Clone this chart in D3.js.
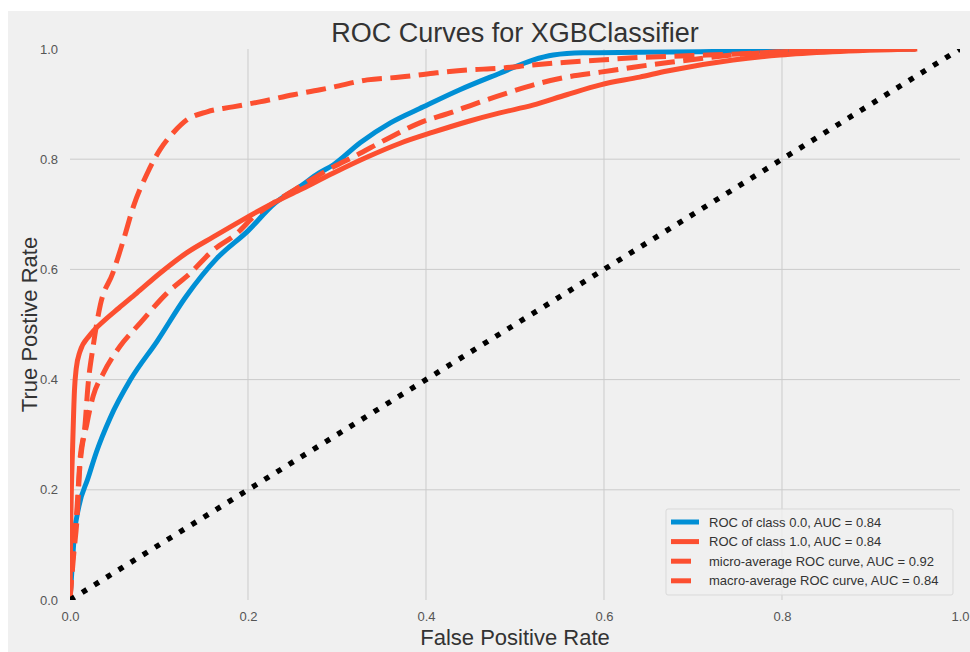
<!DOCTYPE html>
<html>
<head>
<meta charset="utf-8">
<script src="https://cdn.jsdelivr.net/npm/d3@7"></script>
<style>
  body { margin: 0; background: #ffffff; }
  text { font-family: "Liberation Sans", Arial, sans-serif; }
</style>
</head>
<body>
<script>
// Values
const fprClass0 = [0, 0.002, 0.005, 0.01, 0.02, 0.03, 0.045, 0.068, 0.098, 0.13, 0.165, 0.2, 0.23, 0.258, 0.28, 0.296, 0.326, 0.36, 0.397, 0.438, 0.483, 0.52, 0.543, 0.576, 0.64, 0.75, 0.85, 0.95];
const tprClass0 = [0, 0.05, 0.12, 0.17, 0.22, 0.27, 0.33, 0.40, 0.47, 0.55, 0.62, 0.67, 0.72, 0.75, 0.775, 0.79, 0.83, 0.866, 0.895, 0.926, 0.956, 0.98, 0.989, 0.993, 0.994, 0.996, 0.998, 1.0];

const fprClass1 = [0, 0.001, 0.003, 0.005, 0.007, 0.011, 0.022, 0.037, 0.055, 0.075, 0.101, 0.131, 0.161, 0.194, 0.228, 0.258, 0.296, 0.334, 0.371, 0.408, 0.446, 0.483, 0.52, 0.558, 0.596, 0.64, 0.671, 0.745, 0.798, 0.857, 0.952];
const tprClass1 = [0, 0.15, 0.28, 0.38, 0.42, 0.45, 0.48, 0.505, 0.53, 0.557, 0.593, 0.63, 0.659, 0.69, 0.72, 0.744, 0.775, 0.804, 0.829, 0.849, 0.868, 0.884, 0.898, 0.917, 0.935, 0.949, 0.96, 0.98, 0.989, 0.995, 1.0];

const fprMicro = [0, 0.004, 0.008, 0.011, 0.017, 0.02, 0.026, 0.034, 0.048, 0.06, 0.071, 0.087, 0.101, 0.116, 0.131, 0.154, 0.183, 0.213, 0.251, 0.281, 0.296, 0.334, 0.371, 0.408, 0.446, 0.483, 0.52, 0.558, 0.596, 0.633, 0.7, 0.75, 0.8, 0.9, 0.95];
const tprMicro = [0, 0.10, 0.17, 0.25, 0.32, 0.385, 0.46, 0.535, 0.593, 0.653, 0.713, 0.775, 0.817, 0.848, 0.871, 0.886, 0.895, 0.904, 0.917, 0.926, 0.931, 0.944, 0.949, 0.956, 0.962, 0.965, 0.971, 0.976, 0.98, 0.984, 0.988, 0.991, 0.995, 0.999, 1.0];

const fprMacro = [0, 0.004, 0.008, 0.011, 0.019, 0.026, 0.037, 0.056, 0.079, 0.109, 0.135, 0.161, 0.188, 0.206, 0.228, 0.258, 0.296, 0.318, 0.36, 0.393, 0.427, 0.461, 0.491, 0.528, 0.558, 0.596, 0.633, 0.68, 0.72, 0.75, 0.8, 0.9, 0.95];
const tprMacro = [0, 0.08, 0.15, 0.24, 0.32, 0.37, 0.41, 0.46, 0.503, 0.557, 0.593, 0.635, 0.666, 0.695, 0.72, 0.75, 0.786, 0.804, 0.84, 0.866, 0.884, 0.904, 0.92, 0.938, 0.949, 0.958, 0.967, 0.977, 0.985, 0.99, 0.995, 0.999, 1.0];

const diagonal = [0, 1];

const tickValues = [0, 0.2, 0.4, 0.6, 0.8, 1.0];
const seriesNames = [
  "ROC of class 0.0, AUC = 0.84",
  "ROC of class 1.0, AUC = 0.84",
  "micro-average ROC curve, AUC = 0.92",
  "macro-average ROC curve, AUC = 0.84"
];

// Layout
const width = 970, height = 652;
const margin = {top: 49, right: 10, bottom: 52, left: 70};
const plotW = width - margin.left - margin.right,
      plotH = height - margin.top - margin.bottom;

const blue = "#008fd5", red = "#fc4f30";
const lw = 5;
const dash = "20,8.5";

const svg = d3.select("body").append("svg")
  .attr("width", width)
  .attr("height", height);

// figure background (white strip on top/left like the screenshot)
svg.append("rect").attr("x", 8).attr("y", 11)
  .attr("width", width - 8).attr("height", height - 11)
  .attr("fill", "#f0f0f0");

const x = d3.scaleLinear().domain([0, 1]).range([margin.left, margin.left + plotW]);
const y = d3.scaleLinear().domain([0, 1]).range([margin.top + plotH, margin.top]);

svg.append("clipPath").attr("id", "plotClip")
  .append("rect")
  .attr("x", x(0)).attr("y", y(1))
  .attr("width", plotW).attr("height", plotH);

// grid
const inner = tickValues.filter(d => d > 0 && d < 1);
svg.append("g").selectAll("line").data(inner).enter().append("line")
  .attr("x1", d => x(d)).attr("x2", d => x(d))
  .attr("y1", y(1)).attr("y2", y(0))
  .attr("stroke", "#cbcbcb").attr("stroke-width", 1);
svg.append("g").selectAll("line").data(inner).enter().append("line")
  .attr("x1", x(0)).attr("x2", x(1))
  .attr("y1", d => y(d)).attr("y2", d => y(d))
  .attr("stroke", "#cbcbcb").attr("stroke-width", 1);

// axes (tick labels only, fivethirtyeight look)
const xAxis = d3.axisBottom(x).tickValues(tickValues).tickFormat(d3.format(".1f")).tickSize(0).tickPadding(12);
const yAxis = d3.axisLeft(y).tickValues(tickValues).tickFormat(d3.format(".1f")).tickSize(0).tickPadding(12);

const gx = svg.append("g").attr("transform", `translate(0,${y(0)})`).call(xAxis);
const gy = svg.append("g").attr("transform", `translate(${x(0)},0)`).call(yAxis);
[gx, gy].forEach(g => {
  g.select(".domain").remove();
  g.selectAll("text")
    .attr("fill", "#555555")
    .style("font-family", '"Liberation Sans", Arial, sans-serif')
    .style("font-size", "13px");
});

// curves
const line = d3.line()
  .curve(d3.curveMonotoneX)
  .x(d => x(d[0]))
  .y(d => y(d[1]));

const curves = [
  {fpr: fprClass0, tpr: tprClass0, color: blue, dash: null},
  {fpr: fprClass1, tpr: tprClass1, color: red, dash: null},
  {fpr: fprMicro, tpr: tprMicro, color: red, dash: dash},
  {fpr: fprMacro, tpr: tprMacro, color: red, dash: dash}
];

const plot = svg.append("g").attr("clip-path", "url(#plotClip)");

curves.forEach(c => {
  plot.append("path")
    .datum(d3.zip(c.fpr, c.tpr))
    .attr("d", line)
    .attr("fill", "none")
    .attr("stroke", c.color)
    .attr("stroke-width", lw)
    .attr("stroke-linejoin", "round")
    .attr("stroke-dasharray", c.dash);
});

plot.append("path")
  .datum(d3.zip(diagonal, diagonal))
  .attr("d", d3.line().x(d => x(d[0])).y(d => y(d[1])))
  .attr("fill", "none")
  .attr("stroke", "#000000")
  .attr("stroke-width", 5.4)
  .attr("stroke-dasharray", "5.4,8.9");

// title and labels
svg.append("text")
  .attr("x", x(0.5)).attr("y", 42)
  .attr("text-anchor", "middle")
  .attr("fill", "#333333")
  .style("font-size", "27px")
  .text("ROC Curves for XGBClassifier");

svg.append("text")
  .attr("x", x(0.5)).attr("y", 645)
  .attr("text-anchor", "middle")
  .attr("fill", "#333333")
  .style("font-size", "22px")
  .text("False Positive Rate");

svg.append("text")
  .attr("transform", `translate(37,${y(0.5)}) rotate(-90)`)
  .attr("text-anchor", "middle")
  .attr("fill", "#333333")
  .style("font-size", "22px")
  .text("True Postive Rate");

// legend
const legend = svg.append("g").attr("transform", "translate(666,509)");
legend.append("rect")
  .attr("width", 287).attr("height", 86)
  .attr("rx", 2)
  .attr("fill", "#f0f0f0").attr("fill-opacity", 0.8)
  .attr("stroke", "#d9d9d9").attr("stroke-width", 1);

const rows = legend.selectAll("g.row").data(curves).enter().append("g")
  .attr("class", "row")
  .attr("transform", (d, i) => `translate(0,${13 + i * 19.6})`);

rows.append("line")
  .attr("x1", 5).attr("x2", 33)
  .attr("y1", 0).attr("y2", 0)
  .attr("stroke", d => d.color)
  .attr("stroke-width", lw)
  .attr("stroke-dasharray", d => d.dash);

rows.append("text")
  .attr("x", 43).attr("y", 4.5)
  .attr("fill", "#333333")
  .style("font-size", "13px")
  .text((d, i) => seriesNames[i]);
</script>
</body>
</html>
